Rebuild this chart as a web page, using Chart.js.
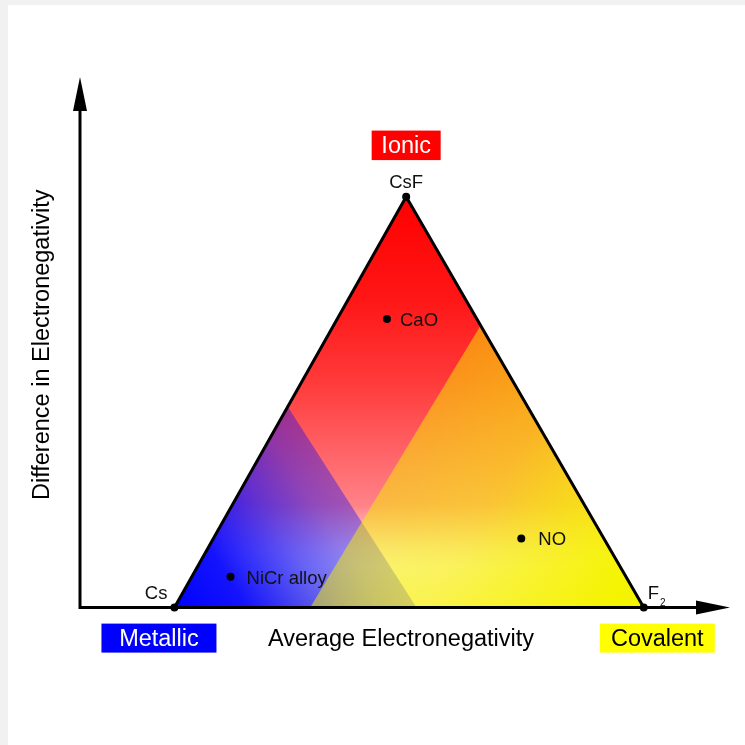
<!DOCTYPE html>
<html>
<head>
<meta charset="utf-8">
<script src="https://cdn.jsdelivr.net/npm/chart.js@4/dist/chart.umd.min.js"></script>
<style>
html, body { margin: 0; padding: 0; width: 745px; height: 745px; overflow: hidden; background: #f1f1f1; }
#wrap { position: absolute; left: 8px; top: 5px; width: 737px; height: 740px; background: #ffffff; }
</style>
</head>
<body>
<div id="wrap"><canvas id="c"></canvas></div>
<script>
// ---- data (x: average electronegativity, y: difference) ----
const vertexNames = ['Cs', 'CsF', 'F2'];
const vertexX = [0.64, 2.21, 3.82];
const vertexY = [0, 2.79, 0];

const compoundNames = ['CaO', 'NO', 'NiCr alloy'];
const compoundX = [2.08, 2.99, 1.02];
const compoundY = [1.96, 0.47, 0.21];

// region outlines inside the triangle
const metallicX = [0.64, 1.41, 2.28];
const metallicY = [0, 1.36, 0];
const covalentX = [2.71, 3.82, 1.56];
const covalentY = [1.91, 0, 0];

const regionNames = ['Ionic', 'Metallic', 'Covalent'];
const axisTitles = ['Average Electronegativity', 'Difference in Electronegativity'];
const xRange = [0, 4.35];
const yRange = [0, 3.57];

// ---- styling ----
const FONT = '"Liberation Sans", Arial, Helvetica, sans-serif';
const BIG = 23.5;
const SMALL = 18.5;

function pix(chart, x, y) {
  return { x: chart.scales.x.getPixelForValue(x), y: chart.scales.y.getPixelForValue(y) };
}
function ok(p) { return isFinite(p.x) && isFinite(p.y); }
function project(p, a, b) {
  const dx = b.x - a.x, dy = b.y - a.y;
  const t = ((p.x - a.x) * dx + (p.y - a.y) * dy) / (dx * dx + dy * dy);
  return { x: a.x + t * dx, y: a.y + t * dy };
}

function ionicGradient(c) {
  const chart = c.chart;
  if (!chart.chartArea) return 'rgb(255,0,0)';
  const top = pix(chart, vertexX[1], vertexY[1]);
  const bot = pix(chart, vertexX[0], vertexY[0]);
  if (!ok(top) || !ok(bot)) return 'rgb(255,0,0)';
  const g = chart.ctx.createLinearGradient(0, top.y, 0, bot.y);
  g.addColorStop(0, 'rgb(255,0,0)');
  g.addColorStop(0.25, 'rgb(255,22,22)');
  g.addColorStop(0.45, 'rgb(255,58,58)');
  g.addColorStop(0.75, 'rgb(255,130,136)');
  g.addColorStop(0.86, 'rgb(255,222,222)');
  g.addColorStop(0.9, 'rgb(255,245,232)');
  g.addColorStop(1, 'rgb(255,248,195)');
  return g;
}

function metallicGradient(c) {
  const chart = c.chart;
  if (!chart.chartArea) return 'rgba(0,0,255,0.7)';
  const a = pix(chart, metallicX[0], metallicY[0]);
  const p1 = pix(chart, metallicX[1], metallicY[1]);
  const p2 = pix(chart, metallicX[2], metallicY[2]);
  if (!ok(a) || !ok(p1) || !ok(p2)) return 'rgba(0,0,255,0.7)';
  const f = project(a, p1, p2);
  const g = chart.ctx.createLinearGradient(a.x, a.y, f.x, f.y);
  g.addColorStop(0, 'rgba(0,0,255,1)');
  g.addColorStop(0.3, 'rgba(0,0,255,0.92)');
  g.addColorStop(0.64, 'rgba(0,0,255,0.6)');
  g.addColorStop(0.85, 'rgba(0,0,255,0.43)');
  g.addColorStop(1, 'rgba(0,0,255,0.36)');
  return g;
}

function covalentGradient(c) {
  const chart = c.chart;
  if (!chart.chartArea) return 'rgba(245,240,0,0.7)';
  const p1 = pix(chart, covalentX[0], covalentY[0]);
  const f2 = pix(chart, covalentX[1], covalentY[1]);
  const p3 = pix(chart, covalentX[2], covalentY[2]);
  if (!ok(p1) || !ok(f2) || !ok(p3)) return 'rgba(245,240,0,0.7)';
  const s = project(f2, p3, p1);
  const g = chart.ctx.createLinearGradient(s.x, s.y, f2.x, f2.y);
  g.addColorStop(0, 'rgba(246,240,0,0.5)');
  g.addColorStop(0.35, 'rgba(246,240,0,0.6)');
  g.addColorStop(0.7, 'rgba(246,242,0,0.86)');
  g.addColorStop(0.9, 'rgba(244,244,0,1)');
  g.addColorStop(1, 'rgba(244,244,0,1)');
  return g;
}

const toPts = (xs, ys) => xs.map((x, i) => ({ x: x, y: ys[i] }));

// label placement (pixel offsets from the point)
const vertexLabelStyle = [
  { dx: -7, dy: -14, align: 'right' },
  { dx: 0, dy: -14, align: 'center' },
  { dx: 4, dy: -14, align: 'left' }
];
const compoundLabelDx = [13, 17, 16];
const compoundLabelDy = 2;

const boxStyle = [
  { anchor: 1, dx: 0, dy: -51.5, w: 69, h: 29.5, fill: '#ff0000', text: '#ffffff' },
  { anchor: 0, dx: -15.5, dy: 30.5, w: 115, h: 29, fill: '#0000ff', text: '#ffffff' },
  { anchor: 2, dx: 13.5, dy: 30.5, w: 115, h: 29, fill: '#ffff00', text: '#000000' }
];

const decorPlugin = {
  id: 'decor',
  afterDatasetsDraw(chart) {
    const ctx = chart.ctx;
    const area = chart.chartArea;
    ctx.save();
    // axes with arrows
    ctx.strokeStyle = '#000';
    ctx.fillStyle = '#000';
    ctx.lineWidth = 3;
    const ox = area.left, oy = area.bottom;
    const yTip = area.top - 5, xTip = area.right + 8;
    const headLen = 34, headHalf = 7;
    ctx.beginPath();
    ctx.moveTo(ox, oy + 1.5);
    ctx.lineTo(ox, yTip + headLen - 2);
    ctx.moveTo(ox - 1.5, oy);
    ctx.lineTo(xTip - headLen + 2, oy);
    ctx.stroke();
    ctx.beginPath();
    ctx.moveTo(ox, yTip);
    ctx.lineTo(ox - headHalf, yTip + headLen);
    ctx.lineTo(ox + headHalf, yTip + headLen);
    ctx.closePath();
    ctx.fill();
    ctx.beginPath();
    ctx.moveTo(xTip, oy);
    ctx.lineTo(xTip - headLen, oy - headHalf);
    ctx.lineTo(xTip - headLen, oy + headHalf);
    ctx.closePath();
    ctx.fill();

    // vertex labels
    ctx.fillStyle = '#111';
    ctx.textBaseline = 'middle';
    vertexNames.forEach((name, i) => {
      const p = pix(chart, vertexX[i], vertexY[i]);
      const st = vertexLabelStyle[i];
      ctx.font = SMALL + 'px ' + FONT;
      ctx.textAlign = st.align;
      if (name === 'F2') {
        ctx.textAlign = 'left';
        ctx.fillText('F', p.x + st.dx, p.y + st.dy);
        const w = ctx.measureText('F').width;
        ctx.font = '10px ' + FONT;
        ctx.fillText('2', p.x + st.dx + w + 1, p.y - 4);
      } else {
        ctx.fillText(name, p.x + st.dx, p.y + st.dy);
      }
    });
    // compound labels
    ctx.font = SMALL + 'px ' + FONT;
    ctx.textAlign = 'left';
    compoundNames.forEach((name, i) => {
      const p = pix(chart, compoundX[i], compoundY[i]);
      ctx.fillText(name, p.x + compoundLabelDx[i], p.y + compoundLabelDy);
    });
    // region boxes
    ctx.font = BIG + 'px ' + FONT;
    ctx.textAlign = 'center';
    regionNames.forEach((name, i) => {
      const st = boxStyle[i];
      const p = pix(chart, vertexX[st.anchor], vertexY[st.anchor]);
      const cx = p.x + st.dx, cy = p.y + st.dy;
      ctx.fillStyle = st.fill;
      ctx.fillRect(cx - st.w / 2, cy - st.h / 2, st.w, st.h);
      ctx.fillStyle = st.text;
      ctx.fillText(name, cx, cy + 1.5);
    });
    ctx.restore();
  }
};

const noBorder = 'rgba(0,0,0,0)';

new Chart(document.getElementById('c'), {
  type: 'line',
  data: {
    datasets: [
      { label: 'Ionic', data: toPts(vertexX, vertexY), fill: 'shape', backgroundColor: ionicGradient,
        borderColor: noBorder, borderWidth: 0, pointRadius: 0, order: 5, clip: false },
      { label: 'Metallic', data: toPts(metallicX, metallicY), fill: 'shape', backgroundColor: metallicGradient,
        borderColor: noBorder, borderWidth: 0, pointRadius: 0, order: 4, clip: false },
      { label: 'Covalent', data: toPts(covalentX, covalentY), fill: 'shape', backgroundColor: covalentGradient,
        borderColor: noBorder, borderWidth: 0, pointRadius: 0, order: 3, clip: false },
      { label: 'Triangle', data: toPts(vertexX.concat([vertexX[0]]), vertexY.concat([vertexY[0]])), fill: false,
        borderColor: '#000', borderWidth: 3, borderJoinStyle: 'round',
        pointRadius: [4, 4, 4, 0], pointBackgroundColor: '#000', pointBorderWidth: 0, order: 2, clip: false },
      { label: 'Compounds', data: toPts(compoundX, compoundY), showLine: false, fill: false,
        pointRadius: 4, pointBackgroundColor: '#000', pointBorderWidth: 0, order: 1, clip: false }
    ]
  },
  options: {
    responsive: true,
    maintainAspectRatio: false,
    animation: false,
    events: [],
    layout: { padding: { left: 20.9, top: 77, right: 23, bottom: 91.4 } },
    plugins: { legend: { display: false }, tooltip: { enabled: false }, title: { display: false } },
    scales: {
      x: {
        type: 'linear', min: xRange[0], max: xRange[1],
        grid: { display: false, drawTicks: false }, border: { display: false }, ticks: { display: false },
        title: { display: true, text: axisTitles[0], color: '#000',
          font: { family: FONT, size: BIG, lineHeight: 1.2 }, padding: { top: 17.8, bottom: 0 } }
      },
      y: {
        type: 'linear', min: yRange[0], max: yRange[1],
        grid: { display: false, drawTicks: false }, border: { display: false }, ticks: { display: false },
        title: { display: true, text: axisTitles[1], color: '#000',
          font: { family: FONT, size: BIG, lineHeight: 1.2 }, padding: { top: 0, bottom: 22.9 } }
      }
    }
  },
  plugins: [decorPlugin]
});
</script>
</body>
</html>
